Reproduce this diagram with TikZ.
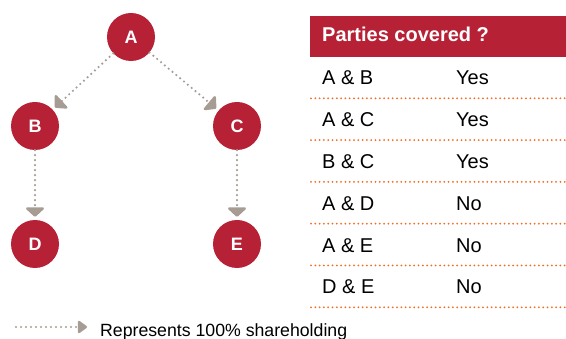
\documentclass[tikz,border=0pt]{standalone}
\usepackage{fontspec}
\setmainfont{Liberation Sans}
\usetikzlibrary{arrows.meta}

\definecolor{partyred}{HTML}{B72136}
\definecolor{roworange}{HTML}{F26B21}
\definecolor{sharegrey}{HTML}{A69C94}

\tikzset{
  party/.style={circle, fill=partyred, minimum size=48pt, inner sep=0pt,
    text=white, font=\bfseries\fontsize{18}{20}\selectfont},
  share/.style={sharegrey, line width=2.4pt, line cap=round,
    dash pattern=on 0pt off 5pt,
    -{Triangle[width=21pt,length=10pt,round]}, shorten >=3pt},
  cell/.style={anchor=base west, inner sep=0pt, font=\fontsize{20}{24}\selectfont},
  rowline/.style={roworange, line width=2pt, line cap=round,
    dash pattern=on 0pt off 4.3pt}
}

\begin{document}
\begin{tikzpicture}[x=1pt, y=-1pt]
      \useasboundingbox (0,0) rectangle (566,339);

      % Draw the parties
      \node[party] (A) at (131,37) {A};
      \node[party] (B) at (35,126) {B};
      \node[party] (C) at (237,126) {C};
      \node[party] (D) at (35,244) {D};
      \node[party] (E) at (237,244) {E};

      % Draw the shareholding arrows
      \draw[share] (A) -- (B);
      \draw[share] (A) -- (C);
      \draw[share] (B) -- (D);
      \draw[share] (C) -- (E);

      % Draw the table header
      \node[fill=partyred, minimum width=256pt, minimum height=41pt,
        inner sep=0pt, anchor=north west] (head) at (310,16) {};
      \node[cell, text=white, font=\bfseries\fontsize{20}{24}\selectfont]
        (headtext) at (322,42) {Parties covered ?};

      % Fill in the rows, each with a dotted line below it
      \foreach \pair/\answer [count=\i] in
        {A \& B/Yes, A \& C/Yes, B \& C/Yes, A \& D/No, A \& E/No, D \& E/No} {
        \node[cell] (pair\i) at (322,43.2+41.8*\i) {\pair};
        \node[cell] (answer\i) at (456,43.2+41.8*\i) {\answer};
        \draw[rowline] (311,56.5+41.8*\i) -- (566,56.5+41.8*\i);
      }

      % Add the legend
      \coordinate (legstart) at (16,327);
      \coordinate (legend) at (87,327);
      \draw[share, -{Triangle[width=14pt,length=10pt,round]}, shorten >=0pt]
        (legstart) -- (legend);
      \node[cell, font=\fontsize{17.7}{20}\selectfont] (legtext) at (100,336.5)
        {Represents 100\% shareholding};
\end{tikzpicture}
\end{document}
